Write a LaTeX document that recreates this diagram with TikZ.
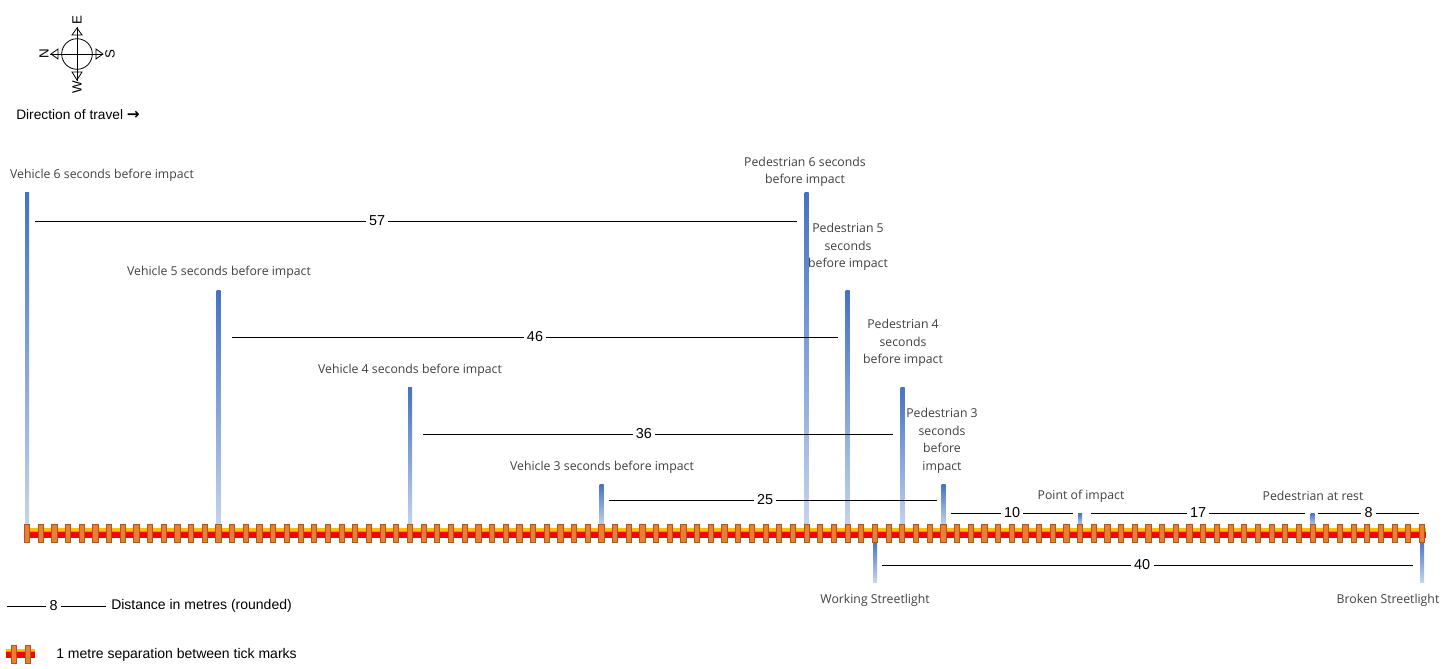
\documentclass[tikz,border=0pt]{standalone}
\usepackage{fontspec}
\setmainfont{Open Sans}
\newfontfamily\numfont{Liberation Sans}
\newfontfamily\symfont{DejaVu Sans}

\definecolor{notegrey}{RGB}{64,64,64}
\definecolor{barblue}{RGB}{68,114,196}
\definecolor{barpale}{RGB}{196,212,238}
\definecolor{trackred}{RGB}{255,0,0}
\definecolor{trackgold}{RGB}{255,192,0}
\definecolor{trackamber}{RGB}{255,140,0}
\definecolor{tickorange}{RGB}{237,125,49}
\definecolor{tickedge}{RGB}{170,88,30}

\begin{document}
\begin{tikzpicture}[x=0.75pt, y=-0.75pt,
  note/.style={text=notegrey, font=\fontsize{9.2}{13.2}\selectfont, inner sep=0pt, align=center},
  dist/.style={font=\numfont\fontsize{10.8}{12}\selectfont, fill=white, inner sep=2.5pt},
  distline/.style={line width=0.75pt},
  postbar/.style={top color=barblue, bottom color=barpale},
  tickmark/.style={fill=tickorange, draw=tickedge, line width=0.6pt},
  legend/.style={font=\numfont\fontsize{10.5}{12}\selectfont, inner sep=0pt, anchor=west},
  compassletter/.style={font=\numfont\fontsize{10}{11}\selectfont, inner sep=0pt, rotate=90}]

\useasboundingbox (0,0) rectangle (1449,668);

% Compass
\draw[line width=0.6pt] (77,54) circle[radius=15.3];
\draw[line width=0.6pt] (77,27) -- (77,81);
\draw[line width=0.6pt] (50,54) -- (103,54);
\draw[line width=0.6pt] (77,28) -- (72,35) -- (82,35) -- cycle;
\draw[line width=0.6pt] (77,80) -- (72,72) -- (82,72) -- cycle;
\draw[line width=0.6pt] (51,54) -- (58,49) -- (58,59) -- cycle;
\draw[line width=0.6pt] (103,54) -- (96,49) -- (96,59) -- cycle;
\node[compassletter] (cE) at (77,20) {E};
\node[compassletter] (cN) at (44,54) {N};
\node[compassletter] (cS) at (110,54) {S};
\node[compassletter] (cW) at (77,87) {W};

\node[legend, font=\numfont\fontsize{10.3}{12}\selectfont] (travel) at (16,115) {Direction of travel {\symfont\bfseries\fontsize{11.5}{12}\selectfont →}};

% Vehicle positions (above the track)
\shade[postbar] (25,192) rectangle (29,526);
\shade[postbar] (216.5,290) rectangle (220.5,526);
\shade[postbar] (408,387) rectangle (412,526);
\shade[postbar] (599.5,484) rectangle (603.5,526);

% Pedestrian positions (above the track)
\shade[postbar] (804.5,192) rectangle (808.5,526);
\shade[postbar] (845.5,290) rectangle (849.5,526);
\shade[postbar] (900.5,387) rectangle (904.5,526);
\shade[postbar] (941.5,484) rectangle (945.5,526);
\shade[postbar] (1078,513) rectangle (1082,526);
\shade[postbar] (1310.5,513) rectangle (1314.5,526);

% Streetlights (below the track)
\shade[postbar] (873,540) rectangle (877,582);
\shade[postbar] (1420,540) rectangle (1424,582);

% Track, one tick per metre
\fill[trackgold] (24,528) rectangle (1426,530.5);
\fill[trackamber] (24,530.5) rectangle (1426,531.5);
\fill[trackred] (24,531.5) rectangle (1426,537.5);
\foreach \i in {0,...,102}
  \filldraw[tickmark] ({27+13.676*\i-2.6},524.5) rectangle ({27+13.676*\i+2.6},542.5);

% Labels
\node[note] (v6) at (102,175) {Vehicle 6 seconds before impact};
\node[note] (v5) at (219,272) {Vehicle 5 seconds before impact};
\node[note] (v4) at (410,370) {Vehicle 4 seconds before impact};
\node[note] (v3) at (602,467) {Vehicle 3 seconds before impact};
\node[note] (p6) at (805,172) {Pedestrian 6 seconds\\before impact};
\node[note] (p5) at (848,247) {Pedestrian 5\\seconds\\before impact};
\node[note] (p4) at (903,343) {Pedestrian 4\\seconds\\before impact};
\node[note] (p3) at (942,441) {Pedestrian 3\\seconds\\before\\impact};
\node[note] (impact) at (1081,496) {Point of impact};
\node[note] (rest) at (1313,496) {Pedestrian at rest};
\node[note] (working) at (875,600) {Working Streetlight};
\node[note] (broken) at (1388,600) {Broken Streetlight};

% Distances in metres
\coordinate (d57a) at (35,221);   \coordinate (d57b) at (797,221);
\coordinate (d46a) at (232,337);  \coordinate (d46b) at (838,337);
\coordinate (d36a) at (423,434);  \coordinate (d36b) at (893,434);
\coordinate (d25a) at (609,500);  \coordinate (d25b) at (937,500);
\coordinate (d10a) at (951,513);  \coordinate (d10b) at (1073,513);
\coordinate (d17a) at (1091,513); \coordinate (d17b) at (1305,513);
\coordinate (d8a)  at (1318,513); \coordinate (d8b)  at (1419,513);
\coordinate (d40a) at (882,565);  \coordinate (d40b) at (1413,565);

\draw[distline] (d57a) -- node[dist, pos=0.449] {57} (d57b);
\draw[distline] (d46a) -- node[dist] {46} (d46b);
\draw[distline] (d36a) -- node[dist, pos=0.47] {36} (d36b);
\draw[distline] (d25a) -- node[dist, pos=0.476] {25} (d25b);
\draw[distline] (d10a) -- node[dist] {10} (d10b);
\draw[distline] (d17a) -- node[dist] {17} (d17b);
\draw[distline] (d8a)  -- node[dist] {8} (d8b);
\draw[distline] (d40a) -- node[dist, pos=0.49] {40} (d40b);

% Legend
\coordinate (keya) at (7,606); \coordinate (keyb) at (106,606);
\draw[distline] (keya) -- node[dist, pos=0.47] {8} (keyb);
\node[legend] (keytext) at (111,606) {Distance in metres (rounded)};

\fill[trackgold] (6,648.5) rectangle (35,651);
\fill[trackamber] (6,651) rectangle (35,652);
\fill[trackred] (6,652) rectangle (35,657.5);
\filldraw[tickmark] (11.5,645) rectangle (16.5,663);
\filldraw[tickmark] (25.5,645) rectangle (30.5,663);
\node[legend] (ticktext) at (56,655) {1 metre separation between tick marks};

\end{tikzpicture}
\end{document}
